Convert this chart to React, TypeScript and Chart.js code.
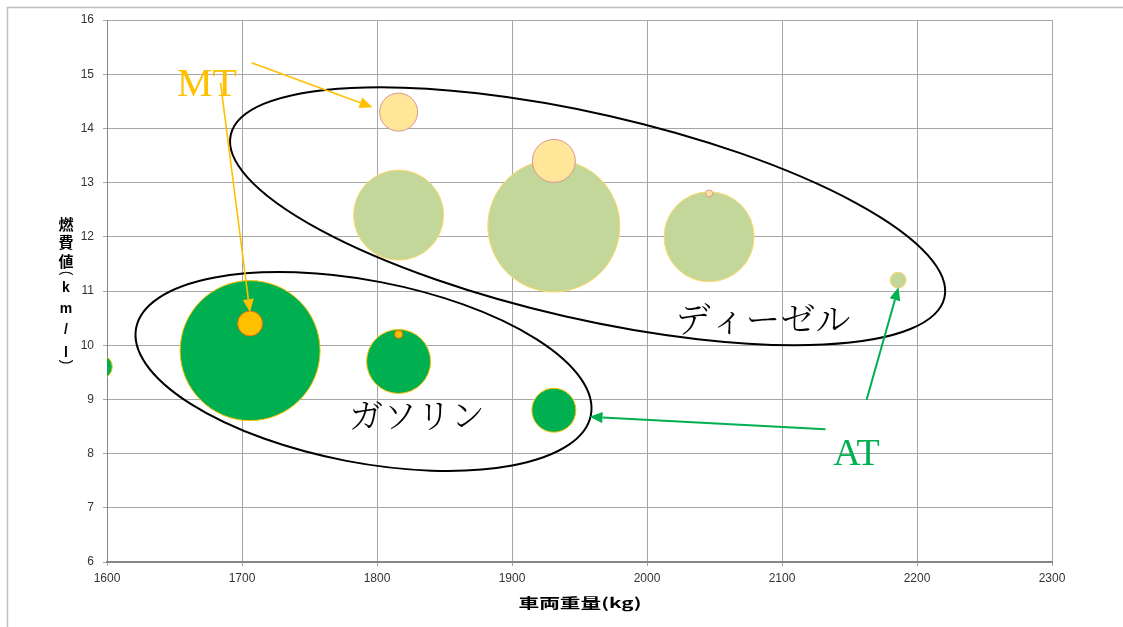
import React, { useEffect, useRef } from 'react';
import { Chart, registerables } from 'chart.js';

Chart.register(...registerables);

// ---- data ----
const xMin = 1600;
const xMax = 2300;
const xStep = 100;
const yMin = 6;
const yMax = 16;
const yStep = 1;

// gasoline, AT
const gasAtWeight = [1595, 1706, 1816, 1931];
const gasAtMileage = [9.6, 9.9, 9.7, 8.8];
const gasAtSize = [12, 70, 32, 22];

// diesel, AT
const dieselAtWeight = [1816, 1931, 2046, 2186];
const dieselAtMileage = [12.4, 12.2, 12.0, 11.2];
const dieselAtSize = [45, 66, 45, 8];

// diesel, MT
const dieselMtWeight = [1816, 1931, 2046];
const dieselMtMileage = [14.3, 13.4, 12.8];
const dieselMtSize = [19, 21.5, 3.5];

// gasoline, MT
const gasMtWeight = [1706, 1816];
const gasMtMileage = [10.4, 10.2];
const gasMtSize = [12.5, 4];

const xTitle = '車両重量(kg)';
const yTitleChars = ['燃', '費', '値', '(', 'k', 'm', '/', 'l', ')'];

const labelGas = 'ガソリン';
const labelDiesel = 'ディーゼル';
const labelMT = 'MT';
const labelAT = 'AT';

const toPoints = (xs: number[], ys: number[], rs: number[]) =>
  xs.map((x, i) => ({ x, y: ys[i], r: rs[i] }));

// ---- annotations (in data coordinates) ----
const ellipses = [
  { cx: 1956, cy: 12.38, rx: 366, ry: 102.6, rot: 12.85 },
  { cx: 1790, cy: 9.515, rx: 231.5, ry: 91, rot: 10.85 },
];

const arrows = [
  { x1: 1707.0, y1: 15.21, x2: 1796.7, y2: 14.39, color: '#FFC000', lw: 1.6 },
  { x1: 1684.1, y1: 14.84, x2: 1705.9, y2: 10.61, color: '#FFC000', lw: 1.6 },
  { x1: 2132.2, y1: 8.45, x2: 1957.4, y2: 8.68, color: '#00B050', lw: 2 },
  { x1: 2162.6, y1: 8.99, x2: 2186.3, y2: 11.07, color: '#00B050', lw: 2 },
];

const texts = [
  { text: labelMT, x: 1674.1, y: 14.6, color: '#FFC000', font: '40px "Liberation Serif", serif', base: 'alphabetic' },
  { text: labelAT, x: 2155.2, y: 7.79, color: '#00B050', font: '38px "Liberation Serif", serif', base: 'alphabetic' },
  { text: labelGas, x: 1829.6, y: 8.71, color: '#000000', font: '300 34px "Noto Serif CJK JP", "Noto Sans CJK JP", serif', base: 'middle' },
  { text: labelDiesel, x: 2085.9, y: 10.48, color: '#000000', font: '300 35px "Noto Serif CJK JP", "Noto Sans CJK JP", serif', base: 'middle' },
];

function drawArrow(ctx: CanvasRenderingContext2D, x1: number, y1: number, x2: number, y2: number, color: string, lw: number) {
  const ang = Math.atan2(y2 - y1, x2 - x1);
  const headLen = 13;
  const headW = 11;
  const bx = x2 - headLen * Math.cos(ang);
  const by = y2 - headLen * Math.sin(ang);
  ctx.save();
  ctx.strokeStyle = color;
  ctx.fillStyle = color;
  ctx.lineWidth = lw;
  ctx.beginPath();
  ctx.moveTo(x1, y1);
  ctx.lineTo(bx, by);
  ctx.stroke();
  ctx.beginPath();
  ctx.moveTo(x2, y2);
  ctx.lineTo(bx - (headW / 2) * Math.sin(ang), by + (headW / 2) * Math.cos(ang));
  ctx.lineTo(bx + (headW / 2) * Math.sin(ang), by - (headW / 2) * Math.cos(ang));
  ctx.closePath();
  ctx.fill();
  ctx.restore();
}

const framePlugin = {
  id: 'frameAndTitles',
  beforeDraw(chart: any) {
    const ctx = chart.ctx as CanvasRenderingContext2D;
    ctx.save();
    ctx.fillStyle = '#ffffff';
    ctx.fillRect(0, 0, chart.width, chart.height);
    ctx.strokeStyle = '#BFBFBF';
    ctx.lineWidth = 1.5;
    ctx.beginPath();
    ctx.moveTo(7.5, chart.height);
    ctx.lineTo(7.5, 7.5);
    ctx.lineTo(chart.width, 7.5);
    ctx.stroke();
    ctx.restore();
  },
  afterDraw(chart: any) {
    const ctx = chart.ctx as CanvasRenderingContext2D;
    const area = chart.chartArea;
    // x-axis title
    ctx.save();
    ctx.fillStyle = '#000';
    ctx.font = 'bold 14px "Noto Sans CJK JP", sans-serif';
    ctx.textAlign = 'center';
    ctx.textBaseline = 'middle';
    const w = ctx.measureText(xTitle).width;
    const sx = 123 / w;
    const cx = (area.left + area.right) / 2 + 0.5;
    ctx.translate(cx, 603);
    ctx.scale(sx, 1);
    ctx.fillText(xTitle, 0, 0);
    ctx.restore();

    // y-axis title (stacked vertical text)
    const yPos = [224, 242.5, 261, 273, 288, 309, 330, 353.5, 362];
    ctx.save();
    ctx.fillStyle = '#000';
    ctx.textAlign = 'center';
    ctx.textBaseline = 'middle';
    yTitleChars.forEach((ch, i) => {
      const isCjk = /[\u3000-\u9fff]/.test(ch);
      ctx.font = isCjk ? 'bold 15px "Noto Sans CJK JP", sans-serif' : 'bold 14px "Liberation Sans", sans-serif';
      if (ch === '(' || ch === ')') {
        ctx.save();
        ctx.translate(66, yPos[i]);
        ctx.rotate(Math.PI / 2);
        ctx.font = '14px "Liberation Sans", sans-serif';
        ctx.fillText(ch, 0, 0);
        ctx.restore();
      } else {
        ctx.fillText(ch, 66, yPos[i]);
      }
    });
    ctx.restore();

    // annotations
    const xs = chart.scales.x;
    const ys = chart.scales.y;
    const px = (v: number) => xs.getPixelForValue(v);
    const py = (v: number) => ys.getPixelForValue(v);
    ctx.save();
    ctx.strokeStyle = '#000';
    ctx.lineWidth = 2;
    ellipses.forEach((e) => {
      ctx.beginPath();
      ctx.ellipse(px(e.cx), py(e.cy), e.rx, e.ry, (e.rot * Math.PI) / 180, 0, Math.PI * 2);
      ctx.stroke();
    });
    ctx.restore();
    arrows.forEach((a) => drawArrow(ctx, px(a.x1), py(a.y1), px(a.x2), py(a.y2), a.color, a.lw));
    texts.forEach((t) => {
      ctx.save();
      ctx.fillStyle = t.color;
      ctx.font = t.font;
      ctx.textAlign = 'center';
      ctx.textBaseline = t.base as CanvasTextBaseline;
      ctx.fillText(t.text, px(t.x), py(t.y));
      ctx.restore();
    });
  },
};

export default function App() {
  const canvasRef = useRef<HTMLCanvasElement | null>(null);

  useEffect(() => {
    if (!canvasRef.current) return;
    const chart = new Chart(canvasRef.current, {
      type: 'bubble',
      data: {
        datasets: [
          {
            label: 'ガソリンMT',
            data: toPoints(gasMtWeight, gasMtMileage, gasMtSize),
            backgroundColor: '#FFC000',
            borderColor: '#E46C0A',
            borderWidth: 1,
            clip: 0,
          },
          {
            label: 'ディーゼルMT',
            data: toPoints(dieselMtWeight, dieselMtMileage, dieselMtSize),
            backgroundColor: '#FFE699',
            borderColor: '#D99694',
            borderWidth: 1,
            clip: 0,
          },
          {
            label: 'ガソリンAT',
            data: toPoints(gasAtWeight, gasAtMileage, gasAtSize),
            backgroundColor: '#00B050',
            borderColor: '#FFC000',
            borderWidth: 1,
            clip: 0,
          },
          {
            label: 'ディーゼルAT',
            data: toPoints(dieselAtWeight, dieselAtMileage, dieselAtSize),
            backgroundColor: '#C4D79B',
            borderColor: '#FFD966',
            borderWidth: 1,
            clip: 0,
          },
        ] as any,
      },
      options: {
        animation: false,
        responsive: true,
        maintainAspectRatio: false,
        events: [],
        layout: { autoPadding: false, padding: { top: 20, right: 71, left: 0, bottom: 0 } },
        plugins: {
          legend: { display: false },
          tooltip: { enabled: false },
          title: { display: false },
        },
        scales: {
          x: {
            type: 'linear',
            min: xMin,
            max: xMax,
            ticks: {
              stepSize: xStep,
              color: '#333',
              font: { family: '"Liberation Sans", sans-serif', size: 12 },
              padding: 5,
              maxRotation: 0,
              callback: (v: any) => String(v),
            },
            grid: { color: '#A6A6A6', lineWidth: 1, tickLength: 4 },
            border: { color: '#868686', width: 2 },
            afterFit: (s: any) => {
              s.height = 65;
            },
          },
          y: {
            type: 'linear',
            min: yMin,
            max: yMax,
            ticks: {
              stepSize: yStep,
              color: '#333',
              font: { family: '"Liberation Sans", sans-serif', size: 12 },
              padding: 9,
              callback: (v: any) => String(v),
            },
            grid: { color: '#A6A6A6', lineWidth: 1, tickLength: 4 },
            border: { color: '#868686', width: 1 },
            afterFit: (s: any) => {
              s.width = 107;
            },
          },
        },
      } as any,
      plugins: [framePlugin],
    });
    return () => chart.destroy();
  }, []);

  return (
    <div style={{ position: 'fixed', left: 0, top: 0, width: 1123, height: 627, background: '#fff' }}>
      <canvas ref={canvasRef} />
    </div>
  );
}
